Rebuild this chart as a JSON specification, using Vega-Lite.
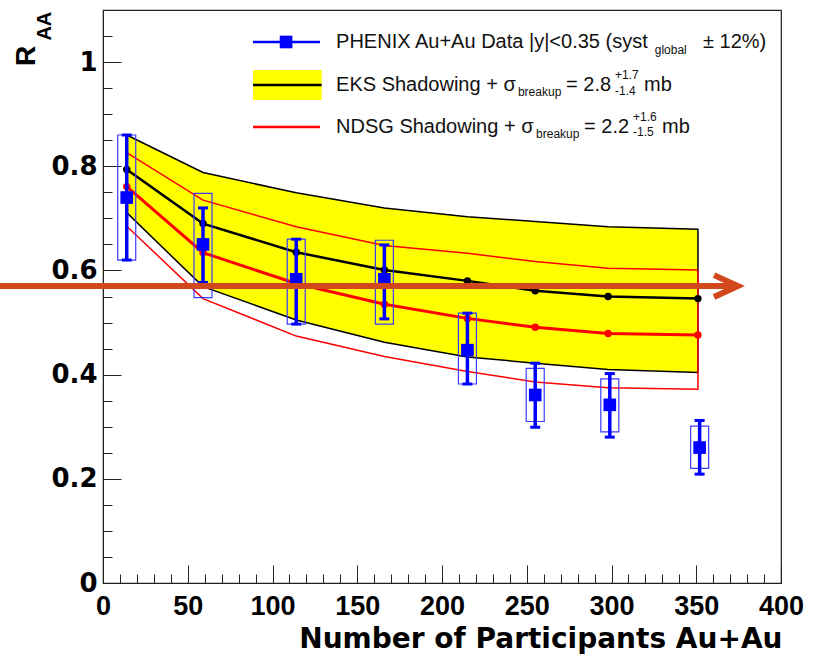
{
  "$schema": "https://vega.github.io/schema/vega-lite/v6.json",
  "width": 678,
  "height": 573,
  "autosize": {"type": "none"},
  "padding": {"left": 103, "top": 10, "right": 39, "bottom": 74},
  "background": "white",
  "config": {
    "view": {"stroke": "#222222", "strokeWidth": 1.2},
    "font": "Liberation Sans",
    "axis": {
      "grid": false,
      "domainColor": "#222222",
      "tickColor": "#222222",
      "labelFont": "Liberation Sans",
      "labelFontWeight": "bold",
      "labelFontSize": 27,
      "labelColor": "black",
      "labelFlush": false,
      "labelOverlap": false,
      "labelSeparation": 0,
      "labelBound": false,
      "titleFont": "DejaVu Sans",
      "titleFontWeight": "bold",
      "titleColor": "black"
    }
  },
  "datasets": {
    "phenix": [
      {"npart": 14, "raa": 0.74, "stat_lo": 0.62, "stat_hi": 0.86, "sys_lo": 0.62, "sys_hi": 0.86},
      {"npart": 59, "raa": 0.65, "stat_lo": 0.577, "stat_hi": 0.72, "sys_lo": 0.548, "sys_hi": 0.748},
      {"npart": 114, "raa": 0.583, "stat_lo": 0.497, "stat_hi": 0.66, "sys_lo": 0.497, "sys_hi": 0.66},
      {"npart": 166, "raa": 0.583, "stat_lo": 0.507, "stat_hi": 0.649, "sys_lo": 0.497, "sys_hi": 0.658},
      {"npart": 215, "raa": 0.447, "stat_lo": 0.382, "stat_hi": 0.518, "sys_lo": 0.382, "sys_hi": 0.518},
      {"npart": 255, "raa": 0.361, "stat_lo": 0.299, "stat_hi": 0.422, "sys_lo": 0.31, "sys_hi": 0.412},
      {"npart": 299, "raa": 0.342, "stat_lo": 0.28, "stat_hi": 0.402, "sys_lo": 0.29, "sys_hi": 0.392},
      {"npart": 352, "raa": 0.26, "stat_lo": 0.209, "stat_hi": 0.312, "sys_lo": 0.22, "sys_hi": 0.301}
    ],
    "model": [
      {"npart": 14, "eks": 0.794, "eks_lo": 0.711, "eks_hi": 0.86, "ndsg": 0.761, "ndsg_lo": 0.685, "ndsg_hi": 0.826},
      {"npart": 59, "eks": 0.69, "eks_lo": 0.569, "eks_hi": 0.788, "ndsg": 0.634, "ndsg_lo": 0.546, "ndsg_hi": 0.735},
      {"npart": 114, "eks": 0.635, "eks_lo": 0.505, "eks_hi": 0.749, "ndsg": 0.575, "ndsg_lo": 0.474, "ndsg_hi": 0.684},
      {"npart": 166, "eks": 0.601, "eks_lo": 0.462, "eks_hi": 0.72, "ndsg": 0.535, "ndsg_lo": 0.435, "ndsg_hi": 0.648},
      {"npart": 215, "eks": 0.58, "eks_lo": 0.434, "eks_hi": 0.703, "ndsg": 0.508, "ndsg_lo": 0.406, "ndsg_hi": 0.633},
      {"npart": 255, "eks": 0.561, "eks_lo": 0.422, "eks_hi": 0.694, "ndsg": 0.491, "ndsg_lo": 0.386, "ndsg_hi": 0.617},
      {"npart": 298, "eks": 0.55, "eks_lo": 0.41, "eks_hi": 0.684, "ndsg": 0.479, "ndsg_lo": 0.375, "ndsg_hi": 0.604},
      {"npart": 351, "eks": 0.546, "eks_lo": 0.404, "eks_hi": 0.679, "ndsg": 0.476, "ndsg_lo": 0.372, "ndsg_hi": 0.601}
    ],
    "arrow": [
      {"part": "shaft", "i": 0, "px": -61, "py": 0.57},
      {"part": "shaft", "i": 1, "px": 371, "py": 0.57},
      {"part": "head", "i": 0, "px": 360.5, "py": 0.591},
      {"part": "head", "i": 1, "px": 374.5, "py": 0.57},
      {"part": "head", "i": 2, "px": 360.5, "py": 0.549}
    ],
    "legsym": [
      {"item": "phenix", "x1": 88.5, "x2": 128, "xm": 108, "y": 1.0386, "ylo": 1.0386, "yhi": 1.0386},
      {"item": "eks", "x1": 88.5, "x2": 129, "xm": 108, "y": 0.956, "ylo": 0.9272, "yhi": 0.9848},
      {"item": "ndsg", "x1": 88.5, "x2": 128, "xm": 108, "y": 0.8754, "ylo": 0.8754, "yhi": 0.8754}
    ],
    "legtext": [
      {"x": 137.5, "y": 1.0386, "t": "PHENIX Au+Au Data |y|<0.35 (syst"},
      {"x": 354, "y": 1.0386, "t": "± 12%)"},
      {"x": 137.5, "y": 0.956, "t": "EKS Shadowing + σ"},
      {"x": 273.2, "y": 0.956, "t": "= 2.8"},
      {"x": 319.2, "y": 0.956, "t": "mb"},
      {"x": 137.5, "y": 0.8754, "t": "NDSG Shadowing + σ"},
      {"x": 283.8, "y": 0.8754, "t": "= 2.2"},
      {"x": 329.8, "y": 0.8754, "t": "mb"}
    ],
    "legsmall": [
      {"x": 325.5, "y": 1.023, "t": "global"},
      {"x": 244.8, "y": 0.942, "t": "breakup"},
      {"x": 302.1, "y": 0.975, "t": "+1.7"},
      {"x": 302.1, "y": 0.9445, "t": "-1.4"},
      {"x": 255.5, "y": 0.8614, "t": "breakup"},
      {"x": 312.7, "y": 0.8937, "t": "+1.6"},
      {"x": 312.7, "y": 0.8649, "t": "-1.5"}
    ],
    "ytitle": [
      {"x": -45, "y": 1.0117, "t": "R", "s": "big"},
      {"x": -34, "y": 1.069, "t": "AA", "s": "small"}
    ]
  },
  "layer": [
    {
      "data": {"name": "model"},
      "mark": {"type": "area", "fill": "#ffff00", "stroke": "black", "strokeWidth": 1.5},
      "encoding": {
        "x": {
          "field": "npart", "type": "quantitative",
          "scale": {"domain": [0, 400], "nice": false, "zero": false},
          "axis": {
            "values": [0,10,20,30,40,50,60,70,80,90,100,110,120,130,140,150,160,170,180,190,200,210,220,230,240,250,260,270,280,290,300,310,320,330,340,350,360,370,380,390,400],
            "tickCount": 200,
            "tickSize": {"condition": {"test": "datum.value % 50 === 0", "value": -18}, "value": -9},
            "labelExpr": "datum.value % 50 === 0 ? datum.label : ''",
            "labelOverlap": false,
            "labelPadding": 28,
            "title": "Number of Participants Au+Au",
            "titleFontSize": 28,
            "titleAnchor": "end",
            "titleAlign": "right",
            "titleX": 679,
            "titleY": 64,
            "titleBaseline": "alphabetic"
          }
        },
        "y": {
          "field": "eks_hi", "type": "quantitative",
          "scale": {"domain": [0, 1.1], "nice": false, "zero": false},
          "axis": {
            "values": [0,0.05,0.1,0.15,0.2,0.25,0.3,0.35,0.4,0.45,0.5,0.55,0.6,0.65,0.7,0.75,0.8,0.85,0.9,0.95,1,1.05,1.1],
            "tickCount": 200,
            "tickSize": {"condition": {"test": "abs(datum.value*5 - round(datum.value*5)) < 0.001", "value": -18}, "value": -9},
            "labelExpr": "abs(datum.value*5 - round(datum.value*5)) < 0.001 ? format(datum.value, '~g') : ''",
            "labelOverlap": false,
            "labelFont": "DejaVu Sans",
            "labelFontSize": 26,
            "labelPadding": 24,
            "title": null
          }
        },
        "y2": {"field": "eks_lo"}
      }
    },
    {
      "data": {"name": "model"},
      "mark": {"type": "area", "fill": null, "fillOpacity": 0, "stroke": "#ff0000", "strokeWidth": 1.5},
      "encoding": {
        "x": {"field": "npart", "type": "quantitative"},
        "y": {"field": "ndsg_hi", "type": "quantitative"},
        "y2": {"field": "ndsg_lo"}
      }
    },
    {
      "data": {"name": "model"},
      "mark": {"type": "line", "color": "black", "strokeWidth": 2.5, "point": {"filled": true, "color": "black", "size": 55}},
      "encoding": {
        "x": {"field": "npart", "type": "quantitative"},
        "y": {"field": "eks", "type": "quantitative"}
      }
    },
    {
      "data": {"name": "model"},
      "mark": {"type": "line", "color": "#ff0000", "strokeWidth": 3, "point": {"filled": true, "color": "#ff0000", "size": 55}},
      "encoding": {
        "x": {"field": "npart", "type": "quantitative"},
        "y": {"field": "ndsg", "type": "quantitative"}
      }
    },
    {
      "data": {"name": "phenix"},
      "mark": {"type": "rect", "fill": null, "fillOpacity": 0, "stroke": "#3a3aff", "strokeWidth": 1.2, "xOffset": -9, "x2Offset": 9},
      "encoding": {
        "x": {"field": "npart", "type": "quantitative"},
        "x2": {"field": "npart"},
        "y": {"field": "sys_lo", "type": "quantitative"},
        "y2": {"field": "sys_hi"}
      }
    },
    {
      "data": {"name": "phenix"},
      "mark": {"type": "rule", "color": "#0000ff", "strokeWidth": 3.5},
      "encoding": {
        "x": {"field": "npart", "type": "quantitative"},
        "y": {"field": "stat_lo", "type": "quantitative"},
        "y2": {"field": "stat_hi"}
      }
    },
    {
      "data": {"name": "phenix"},
      "mark": {"type": "rule", "color": "#0000ff", "strokeWidth": 3, "xOffset": -5, "x2Offset": 5},
      "encoding": {
        "x": {"field": "npart", "type": "quantitative"},
        "x2": {"field": "npart"},
        "y": {"field": "stat_hi", "type": "quantitative"}
      }
    },
    {
      "data": {"name": "phenix"},
      "mark": {"type": "rule", "color": "#0000ff", "strokeWidth": 3, "xOffset": -5, "x2Offset": 5},
      "encoding": {
        "x": {"field": "npart", "type": "quantitative"},
        "x2": {"field": "npart"},
        "y": {"field": "stat_lo", "type": "quantitative"}
      }
    },
    {
      "data": {"name": "phenix"},
      "mark": {"type": "point", "shape": "square", "filled": true, "color": "#0000ff", "size": 160, "opacity": 1},
      "encoding": {
        "x": {"field": "npart", "type": "quantitative"},
        "y": {"field": "raa", "type": "quantitative"}
      }
    },
    {
      "data": {"name": "legsym"},
      "transform": [{"filter": "datum.item === 'eks'"}],
      "mark": {"type": "rect", "fill": "#ffff00"},
      "encoding": {
        "x": {"field": "x1", "type": "quantitative"},
        "x2": {"field": "x2"},
        "y": {"field": "ylo", "type": "quantitative"},
        "y2": {"field": "yhi"}
      }
    },
    {
      "data": {"name": "legsym"},
      "mark": {"type": "rule", "strokeWidth": 2.5},
      "encoding": {
        "x": {"field": "x1", "type": "quantitative"},
        "x2": {"field": "x2"},
        "y": {"field": "y", "type": "quantitative"},
        "color": {"field": "item", "type": "nominal", "scale": {"domain": ["phenix", "eks", "ndsg"], "range": ["#0000ff", "#000000", "#ff0000"]}, "legend": null},
        "strokeWidth": {"field": "item", "type": "nominal", "scale": {"domain": ["phenix", "eks", "ndsg"], "range": [3.5, 2.5, 2]}, "legend": null}
      }
    },
    {
      "data": {"name": "legsym"},
      "transform": [{"filter": "datum.item === 'phenix'"}],
      "mark": {"type": "point", "shape": "square", "filled": true, "color": "#0000ff", "size": 160, "opacity": 1},
      "encoding": {
        "x": {"field": "xm", "type": "quantitative"},
        "y": {"field": "y", "type": "quantitative"}
      }
    },
    {
      "data": {"name": "legtext"},
      "mark": {"type": "text", "align": "left", "baseline": "middle", "fontSize": 20, "font": "Liberation Sans", "color": "#111111"},
      "encoding": {
        "x": {"field": "x", "type": "quantitative"},
        "y": {"field": "y", "type": "quantitative"},
        "text": {"field": "t"}
      }
    },
    {
      "data": {"name": "legsmall"},
      "mark": {"type": "text", "align": "left", "baseline": "middle", "fontSize": 12, "font": "Liberation Sans", "color": "#111111"},
      "encoding": {
        "x": {"field": "x", "type": "quantitative"},
        "y": {"field": "y", "type": "quantitative"},
        "text": {"field": "t"}
      }
    },
    {
      "data": {"name": "ytitle"},
      "transform": [{"filter": "datum.s === 'big'"}],
      "mark": {"type": "text", "align": "center", "baseline": "middle", "angle": 270, "fontSize": 28, "fontWeight": "bold", "font": "Liberation Sans", "color": "black"},
      "encoding": {
        "x": {"field": "x", "type": "quantitative"},
        "y": {"field": "y", "type": "quantitative"},
        "text": {"field": "t"}
      }
    },
    {
      "data": {"name": "ytitle"},
      "transform": [{"filter": "datum.s === 'small'"}],
      "mark": {"type": "text", "align": "center", "baseline": "middle", "angle": 270, "fontSize": 20, "fontWeight": "bold", "font": "Liberation Sans", "color": "black"},
      "encoding": {
        "x": {"field": "x", "type": "quantitative"},
        "y": {"field": "y", "type": "quantitative"},
        "text": {"field": "t"}
      }
    },
    {
      "data": {"name": "arrow"},
      "mark": {"type": "line", "color": "#d2481c", "strokeWidth": 6, "strokeCap": "butt", "strokeJoin": "miter"},
      "encoding": {
        "x": {"field": "px", "type": "quantitative"},
        "y": {"field": "py", "type": "quantitative"},
        "detail": {"field": "part", "type": "nominal"},
        "order": {"field": "i", "type": "quantitative"}
      }
    }
  ]
}
